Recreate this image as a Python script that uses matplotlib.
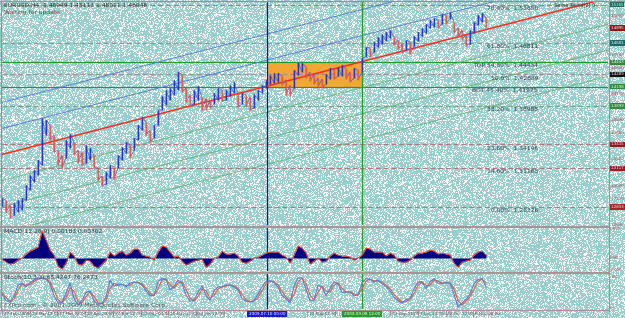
import numpy as np
import matplotlib
matplotlib.use("Agg")
import matplotlib.pyplot as plt
from matplotlib.patches import Rectangle

# ---------------- texts ----------------
header_text = "EURUSD,H4  1.48049 1.48113 1.48011 1.48048"
status_text = "Waiting for update"
macd_title = "MACD(12,26,9) 0.00183 0.00302"
stoch_title = "Stoch(10,3,3) 68.4247 76.2473"
copyright_text = "FXPro.com - \u00a9 2001-2009 MetaQuotes Software Corp."
trend_label = "Sema Trend(2) 0"

# ---------------- price bars (high / low) ----------------
bar_high = [1.2936, 1.2913, 1.2855, 1.2878, 1.2913, 1.2936, 1.3086, 1.3201, 1.3259, 1.3374,
            1.3858, 1.3835, 1.3777, 1.3662, 1.3489, 1.3431, 1.3604, 1.3673, 1.3581, 1.3489,
            1.3466, 1.3547, 1.3512, 1.3431, 1.3282, 1.3189, 1.3236, 1.3316, 1.3293, 1.3431,
            1.3524, 1.3581, 1.3547, 1.3627, 1.3777, 1.3869, 1.3812, 1.3719, 1.3777, 1.3950,
            1.4112, 1.4181, 1.4204, 1.4296, 1.4388, 1.4353, 1.4204, 1.4123, 1.4181, 1.4227,
            1.4100, 1.4089, 1.4065, 1.4146, 1.4204, 1.4181, 1.4181, 1.4238, 1.4273, 1.4146,
            1.4146, 1.4123, 1.4100, 1.4135, 1.4181, 1.4238, 1.4296, 1.4353, 1.4376, 1.4376,
            1.4342, 1.4296, 1.4238, 1.4411, 1.4503, 1.4491, 1.4445, 1.4388, 1.4365, 1.4319,
            1.4307, 1.4365, 1.4434, 1.4411, 1.4445, 1.4468, 1.4422, 1.4388, 1.4434, 1.4411,
            1.4549, 1.4676, 1.4664, 1.4733, 1.4791, 1.4825, 1.4848, 1.4871, 1.4791, 1.4756,
            1.4710, 1.4756, 1.4733, 1.4802, 1.4848, 1.4894, 1.4941, 1.4987, 1.5010, 1.4987,
            1.5056, 1.5044, 1.5079, 1.4964, 1.4894, 1.4871, 1.4825, 1.4871, 1.4964, 1.5044,
            1.5067, 1.5010]
bar_low = [1.2844, 1.2775, 1.2706, 1.2740, 1.2775, 1.2798, 1.2913, 1.3028, 1.3120, 1.3201,
           1.3316, 1.3662, 1.3604, 1.3466, 1.3316, 1.3282, 1.3397, 1.3512, 1.3431, 1.3339,
           1.3316, 1.3339, 1.3374, 1.3282, 1.3143, 1.3074, 1.3097, 1.3166, 1.3155, 1.3282,
           1.3374, 1.3454, 1.3397, 1.3489, 1.3604, 1.3719, 1.3662, 1.3581, 1.3627, 1.3777,
           1.3950, 1.4008, 1.4065, 1.4123, 1.4181, 1.4158, 1.4042, 1.3996, 1.4019, 1.4065,
           1.3950, 1.3950, 1.3973, 1.4019, 1.4065, 1.4054, 1.4065, 1.4112, 1.4146, 1.3985,
           1.4019, 1.3996, 1.3950, 1.3973, 1.4065, 1.4146, 1.4204, 1.4250, 1.4261, 1.4273,
           1.4238, 1.4123, 1.4112, 1.4204, 1.4353, 1.4388, 1.4319, 1.4284, 1.4250, 1.4215,
           1.4204, 1.4250, 1.4307, 1.4307, 1.4342, 1.4342, 1.4307, 1.4273, 1.4319, 1.4296,
           1.4388, 1.4561, 1.4561, 1.4618, 1.4676, 1.4710, 1.4745, 1.4779, 1.4699, 1.4653,
           1.4607, 1.4641, 1.4595, 1.4687, 1.4745, 1.4802, 1.4837, 1.4894, 1.4906, 1.4894,
           1.4941, 1.4941, 1.4998, 1.4837, 1.4791, 1.4756, 1.4687, 1.4710, 1.4837, 1.4929,
           1.4964, 1.4906]

# ---------------- MACD ----------------
macd_main = [-0.0005, -0.0020, -0.0030, -0.0025, -0.0010, 0.0000, 0.0020, 0.0035, 0.0045, 0.0055,
             0.0135, 0.0090, 0.0040, 0.0015, -0.0040, -0.0055, -0.0025, 0.0030, 0.0010, -0.0030,
             -0.0035, -0.0010, -0.0015, -0.0040, -0.0050, -0.0030, -0.0010, 0.0030, 0.0010, 0.0025,
             0.0035, 0.0015, 0.0025, 0.0045, 0.0045, 0.0015, 0.0010, 0.0005, -0.0010, 0.0030,
             0.0060, 0.0055, 0.0030, 0.0005, 0.0010, -0.0015, -0.0035, -0.0025, -0.0015, -0.0010,
             -0.0005, -0.0045, -0.0030, 0.0000, 0.0005, 0.0035, 0.0020, 0.0020, 0.0025, 0.0010,
             -0.0020, -0.0025, -0.0015, 0.0000, 0.0005, 0.0015, 0.0025, 0.0030, 0.0030, 0.0030,
             0.0015, 0.0005, -0.0025, 0.0015, 0.0060, 0.0050, 0.0025, -0.0030, -0.0015, 0.0000,
             -0.0020, -0.0015, 0.0010, 0.0025, 0.0015, 0.0010, 0.0010, 0.0005, -0.0010, 0.0000,
             0.0015, 0.0050, 0.0045, 0.0030, 0.0030, 0.0030, 0.0010, 0.0025, 0.0015, -0.0015,
             -0.0020, -0.0020, -0.0010, 0.0010, 0.0025, 0.0025, 0.0030, 0.0040, 0.0035, 0.0020,
             0.0025, 0.0020, 0.0015, -0.0025, -0.0045, -0.0020, -0.0015, -0.0010, 0.0015, 0.0030,
             0.0035, 0.0015]

# ---------------- Stochastic ----------------
stoch_main = [45, 24, 18, 38, 74, 80, 68, 82, 90, 97,
              97, 93, 78, 40, 16, 18, 48, 80, 30, 10,
              25, 50, 55, 22, 12, 15, 35, 90, 70, 76,
              76, 68, 80, 84, 82, 74, 55, 40, 40, 85,
              97, 92, 58, 70, 90, 80, 42, 22, 25, 50,
              72, 40, 25, 55, 68, 68, 74, 74, 68, 60,
              30, 22, 20, 24, 45, 68, 86, 88, 82, 68,
              40, 30, 16, 70, 97, 97, 60, 25, 25, 74,
              68, 40, 62, 85, 78, 50, 52, 52, 40, 42,
              80, 95, 92, 84, 90, 78, 70, 55, 35, 24,
              16, 27, 30, 62, 84, 84, 62, 85, 95, 80,
              80, 82, 80, 45, 3, 16, 28, 45, 78, 92,
              95, 68]
stoch_signal = [50, 34, 21, 28, 56, 77, 74, 75, 86, 93,
                97, 95, 85, 59, 28, 17, 33, 64, 55, 20,
                17, 37, 52, 38, 17, 13, 25, 62, 80, 73,
                76, 72, 74, 82, 83, 78, 64, 47, 40, 62,
                91, 94, 75, 64, 80, 85, 61, 32, 23, 37,
                61, 56, 32, 40, 61, 68, 71, 74, 71, 64,
                45, 26, 21, 22, 34, 56, 77, 87, 85, 75,
                54, 35, 23, 43, 83, 97, 78, 42, 25, 50,
                71, 54, 51, 73, 81, 64, 51, 52, 46, 41,
                61, 87, 93, 88, 87, 84, 74, 62, 45, 30,
                20, 21, 28, 46, 73, 84, 73, 73, 90, 87,
                80, 81, 81, 62, 24, 10, 22, 36, 61, 85,
                93, 81]

# ---------------- drawing objects ----------------
fib_low = 1.28326
fib_high = 1.58855
fib_pcts = [0.0, 14.6, 23.6, 38.2, 45.4, 50.0, 54.6, 61.8, 76.4]
fib_labels = ["0.00%  1.28326", "14.60%  1.31165", "23.60%  1.34146", "38.20%  1.38988",
              "BOT 45.40%  1.41975", "50.0%  1.42889", "TOP 54.60%  1.44434",
              "61.80%  1.46811", "76.40%  1.51650"]
fib_box_text = ["1.2833", "1.3117", "1.3415", "1.3899", "1.4198",
                "1.4289", "1.4443", "1.4681", "1.5165"]
fib_line_colors = ["#B07A7A", "#B07A7A", "#B07A7A", "#6FA878", "#229A2A",
                   "#9A9090", "#229A2A", "#9A9090", "#5AAA5A"]
fib_solid = [False, False, False, False, True, False, True, False, False]
fib_box_colors = ["#A82222", "#9A1C1C", "#8E1A1A", "#2E8B3A", "#2E8B3A",
                  "#111111", "#2E8B3A", "#1E6A66", "#1E6A5A"]

current_price = 1.4894
current_price_text = "1.4895"

reg_start = (0.0, 1.3437)
reg_end = (148.0, 1.5197)
channel_up = [0.030, 0.060]
channel_down = [-0.030, -0.060, -0.090]

vline_blue = 66.25
vline_green = 90.0
vline_blue_text = "2009.07.10 00:00"
vline_green_text = "2009.09.08 12:00"

date_labels = ["27 Feb 2009", "13 Mar 12:00", "27 Mar 04:00", "13 Apr 20:00", "27 Apr 12:00",
               "12 May 04:00", "26 May 20:00", "10 Jun 12:00", "25 Jun 04:00", "9 Jul 20:00",
               "24 Jul 12:00", "10 Aug 04:00", "24 Aug 20:00", "8 Sep 12:00", "23 Sep 04:00",
               "7 Oct 20:00", "22 Oct 12:00", "6 Nov 04:00"]
date_step = 6.93

price_ticks = [1.5030, 1.4880, 1.4730, 1.4580, 1.4430, 1.4280, 1.4130, 1.3980, 1.3830,
               1.3680, 1.3530, 1.3380, 1.3230, 1.3080, 1.2930, 1.2780, 1.2630]
macd_ticks = [(0.0145, "0.015"), (0.0, "0.00"), (-0.0060, "-0.006")]
stoch_ticks = [(100, "100"), (0, "0")]

# ---------------- figure ----------------
W, H = 625, 318
fig = plt.figure(figsize=(W / 100, H / 100), dpi=100)
plt.rcParams['font.family'] = ['DejaVu Sans']
FS = 4.3
FSD = 2.95   # date row
FSR = 2.8    # right axis

# dithered teal background (deterministic hash pattern)
yy, xx = np.mgrid[0:H, 0:W].astype(np.int64)
h = (xx * 374761393 + yy * 668265263) & 0xFFFFFFFF
h = ((h ^ (h >> 13)) * 1274126177) & 0xFFFFFFFF
h = h ^ (h >> 16)
mask = (h % 100) < 30
bg = np.empty((H, W, 3))
bg[:] = (0.60, 0.81, 0.81)
bg[mask] = (1.0, 1.0, 1.0)
fig.figimage(bg, xo=0, yo=0, origin='upper', zorder=-10)


def add_px_axes(top, bottom, left=2, right=608):
    a = fig.add_axes([left / W, 1 - bottom / H, (right - left) / W, (bottom - top) / H])
    a.set_facecolor('none')
    for s in a.spines.values():
        s.set_visible(False)
    a.set_xticks([])
    a.set_yticks([])
    a.set_xlim(0, (right - left) / 4.0)
    return a


ax = add_px_axes(2, 225)
axm = add_px_axes(228, 271)
axs = add_px_axes(274, 309)

ax.set_ylim(1.2625, 1.5194)
axm.set_ylim(-0.0065, 0.0150)
axs.set_ylim(-3.2, 109.7)

hi = np.array(bar_high)
lo = np.array(bar_low)
x = np.arange(len(hi))

# orange zone between TOP and BOT
fib_prices = [fib_low + p / 100.0 * (fib_high - fib_low) for p in fib_pcts]
top_p = fib_prices[fib_pcts.index(54.6)]
bot_p = fib_prices[fib_pcts.index(45.4)]
ax.add_patch(Rectangle((vline_blue, bot_p), vline_green - vline_blue, top_p - bot_p,
                       facecolor='#F2A634', edgecolor='none', zorder=1))

# fib lines
for pr, col, solid in zip(fib_prices, fib_line_colors, fib_solid):
    ax.axhline(pr, color=col, lw=0.8, ls='-' if solid else (0, (4.5, 2.5)), zorder=2)
for pr, lab in zip(fib_prices, fib_labels):
    ax.annotate(lab, (134, pr), xytext=(0, -0.8), textcoords='offset points',
                ha='right', va='top', fontsize=FS, color='#2E3A50', zorder=6)

# regression channel
xs_line = [reg_start[0] - 2, reg_end[0] + 5]
slope = (reg_end[1] - reg_start[1]) / (reg_end[0] - reg_start[0])
def line_y(xv, off):
    return reg_start[1] + off + slope * (xv - reg_start[0])
for off in channel_down:
    ax.plot(xs_line, [line_y(v, off) for v in xs_line], color='#5DB05D', lw=0.55, zorder=2)
for off in channel_up:
    ax.plot(xs_line, [line_y(v, off) for v in xs_line], color='#4F6FE0', lw=0.6, zorder=2)
ax.plot([reg_start[0] - 2, reg_end[0]], [line_y(reg_start[0] - 2, 0), reg_end[1]],
        color='#FF2A1A', lw=1.1, zorder=4)
ax.text(148.3, 1.5150, trend_label, ha='right', va='center', fontsize=3.6,
        color='#3A3A3A', zorder=6)

# vertical lines
for a in (ax, axm, axs):
    a.axvline(vline_blue, color='#1010C8', lw=0.9, zorder=3)
    a.axvline(vline_green, color='#22A022', lw=0.9, zorder=3)

# price bars
mid = (hi + lo) / 2
up = np.r_[True, mid[1:] >= mid[:-1]]
cols = np.where(up, '#2336D0', '#E8584E')
zz_x = np.repeat(x, 2)
zz_y = np.empty(2 * len(x))
zz_y[0::2] = np.where(up, lo, hi)
zz_y[1::2] = np.where(up, hi, lo)
ax.plot(zz_x, zz_y, color='#4A5AD0', lw=0.5, zorder=4.5)
ax.vlines(x, lo, hi, colors=cols, lw=1.0, zorder=5)

# MACD
macd = np.array(macd_main)
axm.fill_between(x, 0, macd, color='#000080', lw=0, zorder=3)
axm.plot(x, macd, color='#E83A2A', lw=0.7, zorder=4)

# Stochastic
axs.plot(x, stoch_signal, color='#E85A3A', lw=0.8, zorder=3)
axs.plot(x, stoch_main, color='#5A78D8', lw=0.8, zorder=4)

# date axis ticks and labels
box_half = 5.0
tick_pos = [k * date_step for k in range(len(date_labels))]
for tp, lab in zip(tick_pos, date_labels):
    covered = any((tp < xv + box_half) and (tp + date_step - 0.6 > xv - box_half)
                  for xv in (vline_blue, vline_green))
    axs.plot([tp, tp], [-0.03, -0.2], transform=axs.get_xaxis_transform(), color='#A08080',
             lw=0.5, clip_on=False)
    if covered:
        continue
    axs.text(tp + 0.45, -0.135, lab, transform=axs.get_xaxis_transform(), ha='left', va='center',
             fontsize=FSD, color='#7A5050', clip_on=False)
for xv, txt, col in ((vline_blue, vline_blue_text, '#1A1AD0'), (vline_green, vline_green_text, '#22A022')):
    axs.text(xv, -0.135, txt, transform=axs.get_xaxis_transform(), ha='center', va='center',
             fontsize=FSD, color='white', clip_on=False, zorder=8,
             bbox=dict(boxstyle='square,pad=0.4', fc=col, ec='none'))

# right axis: price ticks and fib boxes
box_prices = fib_prices + [current_price]
def px_of(pr):
    return (1.5217 - pr) / 0.001152
for pt in price_ticks:
    if min(abs(px_of(pt) - px_of(b)) for b in box_prices) < 6:
        continue
    ax.text(1.0035, pt, "%.4f" % pt, transform=ax.get_yaxis_transform(), ha='left', va='center',
            fontsize=FSR, color='#9A4A4A', clip_on=False)
for pr, txt, col in list(zip(fib_prices, fib_box_text, fib_box_colors)) + [(current_price, current_price_text, '#8B1A1A')]:
    ax.text(1.0035, pr, txt, transform=ax.get_yaxis_transform(), ha='left', va='center',
            fontsize=FSR, color='white', clip_on=False, zorder=8,
            bbox=dict(boxstyle='square,pad=0.2', fc=col, ec='none'))
for v, t in macd_ticks:
    axm.text(1.0035, v, t, transform=axm.get_yaxis_transform(), ha='left', va='center',
             fontsize=FSR, color='#9A4A4A', clip_on=False)
for v, t in stoch_ticks:
    axs.text(1.0035, v, t, transform=axs.get_yaxis_transform(), ha='left', va='center',
             fontsize=FSR, color='#9A4A4A', clip_on=False)

# panel titles
ax.text(0.003, 0.995, header_text, transform=ax.transAxes, ha='left', va='top',
        fontsize=FS, color='#2A2A3A')
ax.text(0.003, 0.965, status_text, transform=ax.transAxes, ha='left', va='top',
        fontsize=FS, color='#8A3030')
axm.text(0.003, 0.97, macd_title, transform=axm.transAxes, ha='left', va='top',
         fontsize=FS, color='#2A2A3A')
axs.text(0.003, 0.97, stoch_title, transform=axs.transAxes, ha='left', va='top',
         fontsize=FS, color='#2A2A3A')
axs.text(0.003, 0.03, copyright_text, transform=axs.transAxes, ha='left', va='bottom',
         fontsize=FS, color='#5A4A4A')

# frame / separators (pixel overlay)
ov = fig.add_axes([0, 0, 1, 1], zorder=20)
ov.set_xlim(0, W)
ov.set_ylim(H, 0)
ov.axis('off')
ov.patch.set_alpha(0)
ov.plot([0, W], [0.6, 0.6], color='#909090', lw=0.9)
ov.plot([0.6, 0.6], [0, 310], color='#909090', lw=0.9)
ov.plot([0, 609], [226.5, 226.5], color='#A89494', lw=1.5)
ov.plot([0, 609], [272.5, 272.5], color='#A89494', lw=1.5)
ov.plot([0, 609], [310.2, 310.2], color='#B08C8C', lw=0.7)
ov.plot([608.6, 608.6], [0, 311], color='#B08888', lw=0.7)

fig.savefig("out.png", dpi=100)
